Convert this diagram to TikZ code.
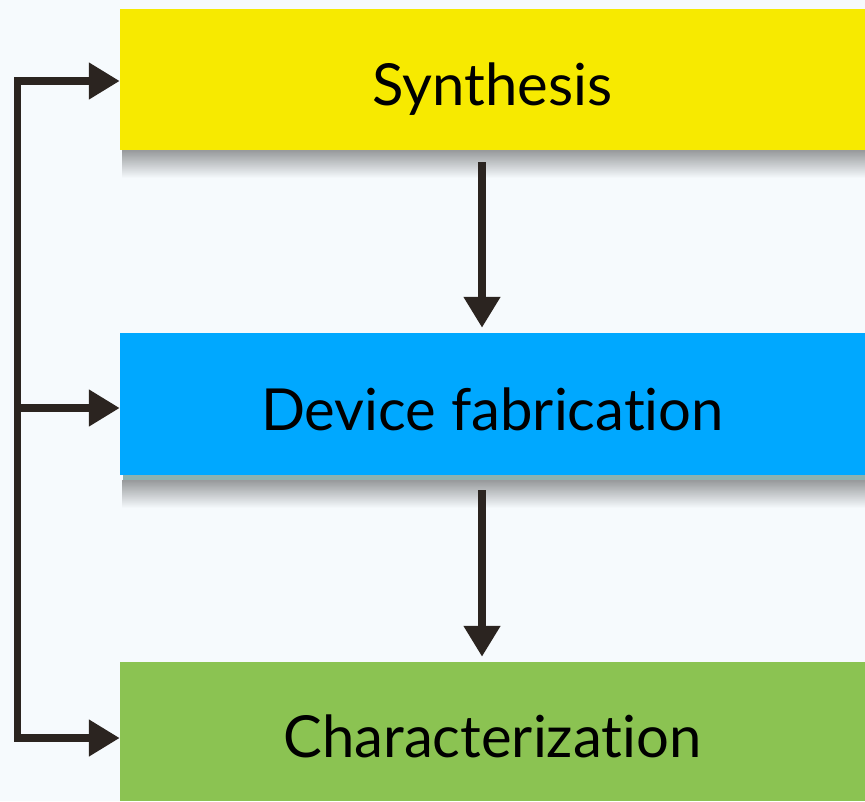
\documentclass[tikz,border=0pt]{standalone}
\usepackage{fontspec}
\setmainfont{Lato}[Ligatures={NoCommon}]
\usetikzlibrary{arrows.meta,fadings}

\definecolor{pagebg}{RGB}{246,250,253}
\definecolor{synyellow}{RGB}{247,234,0}
\definecolor{devblue}{RGB}{0,168,255}
\definecolor{chargreen}{RGB}{139,195,82}
\definecolor{arrowdark}{RGB}{43,36,32}
\definecolor{stripteal}{RGB}{140,178,176}

\begin{document}
\begin{tikzpicture}[font=\fontsize{33}{40}\selectfont,
  stage/.style={rectangle,draw=none,minimum width=14.9cm,inner sep=0pt,
    text height=32pt,text depth=2pt},
  softshadow/.style={fill=black,fill opacity=0.38,path fading=south},
  flow/.style={draw=arrowdark,line width=4pt,-{Triangle[length=17.5pt,width=20pt]}}]
\fill[pagebg] (0,0) rectangle (17.3,-16.02);
\useasboundingbox (0,0) rectangle (17.3,-16.02);
% the three stages, stacked top to bottom
\node[stage,fill=synyellow,minimum height=2.82cm] (syn) at (9.85,-1.59) {Synthesis};
\node[stage,fill=devblue,minimum height=2.84cm] (dev) at (9.85,-8.08) {Device fabrication};
\node[stage,fill=chargreen,minimum height=2.78cm] (char) at (9.85,-14.63) {Characterization};
% shadows under the stages
\fill[softshadow] ([xshift=0.06cm]syn.south west) rectangle ([yshift=-0.55cm]syn.south east);
\fill[softshadow] ([xshift=0.06cm,yshift=-0.1cm]dev.south west) rectangle ([yshift=-0.65cm]dev.south east);
\fill[stripteal] ([xshift=0.06cm]dev.south west) rectangle ([yshift=-0.1cm]dev.south east);
% feedback loop on the left
\coordinate (lt) at (0.35,-1.62);
\coordinate (lm) at (0.35,-8.16);
\coordinate (lb) at (0.35,-14.76);
\draw[flow] (lb) -- (lt) -- (lt -| syn.west);
\draw[flow] (lt) -- (lb) -- (lb -| char.west);
\draw[flow] (lm) -- (lm -| dev.west);
% forward arrows
\draw[flow] ([xshift=-0.21cm,yshift=-0.24cm]syn.south) -- ([xshift=-0.21cm,yshift=0.1cm]dev.north);
\draw[flow] ([xshift=-0.21cm,yshift=-0.3cm]dev.south) -- ([xshift=-0.21cm,yshift=0.1cm]char.north);
\end{tikzpicture}
\end{document}
